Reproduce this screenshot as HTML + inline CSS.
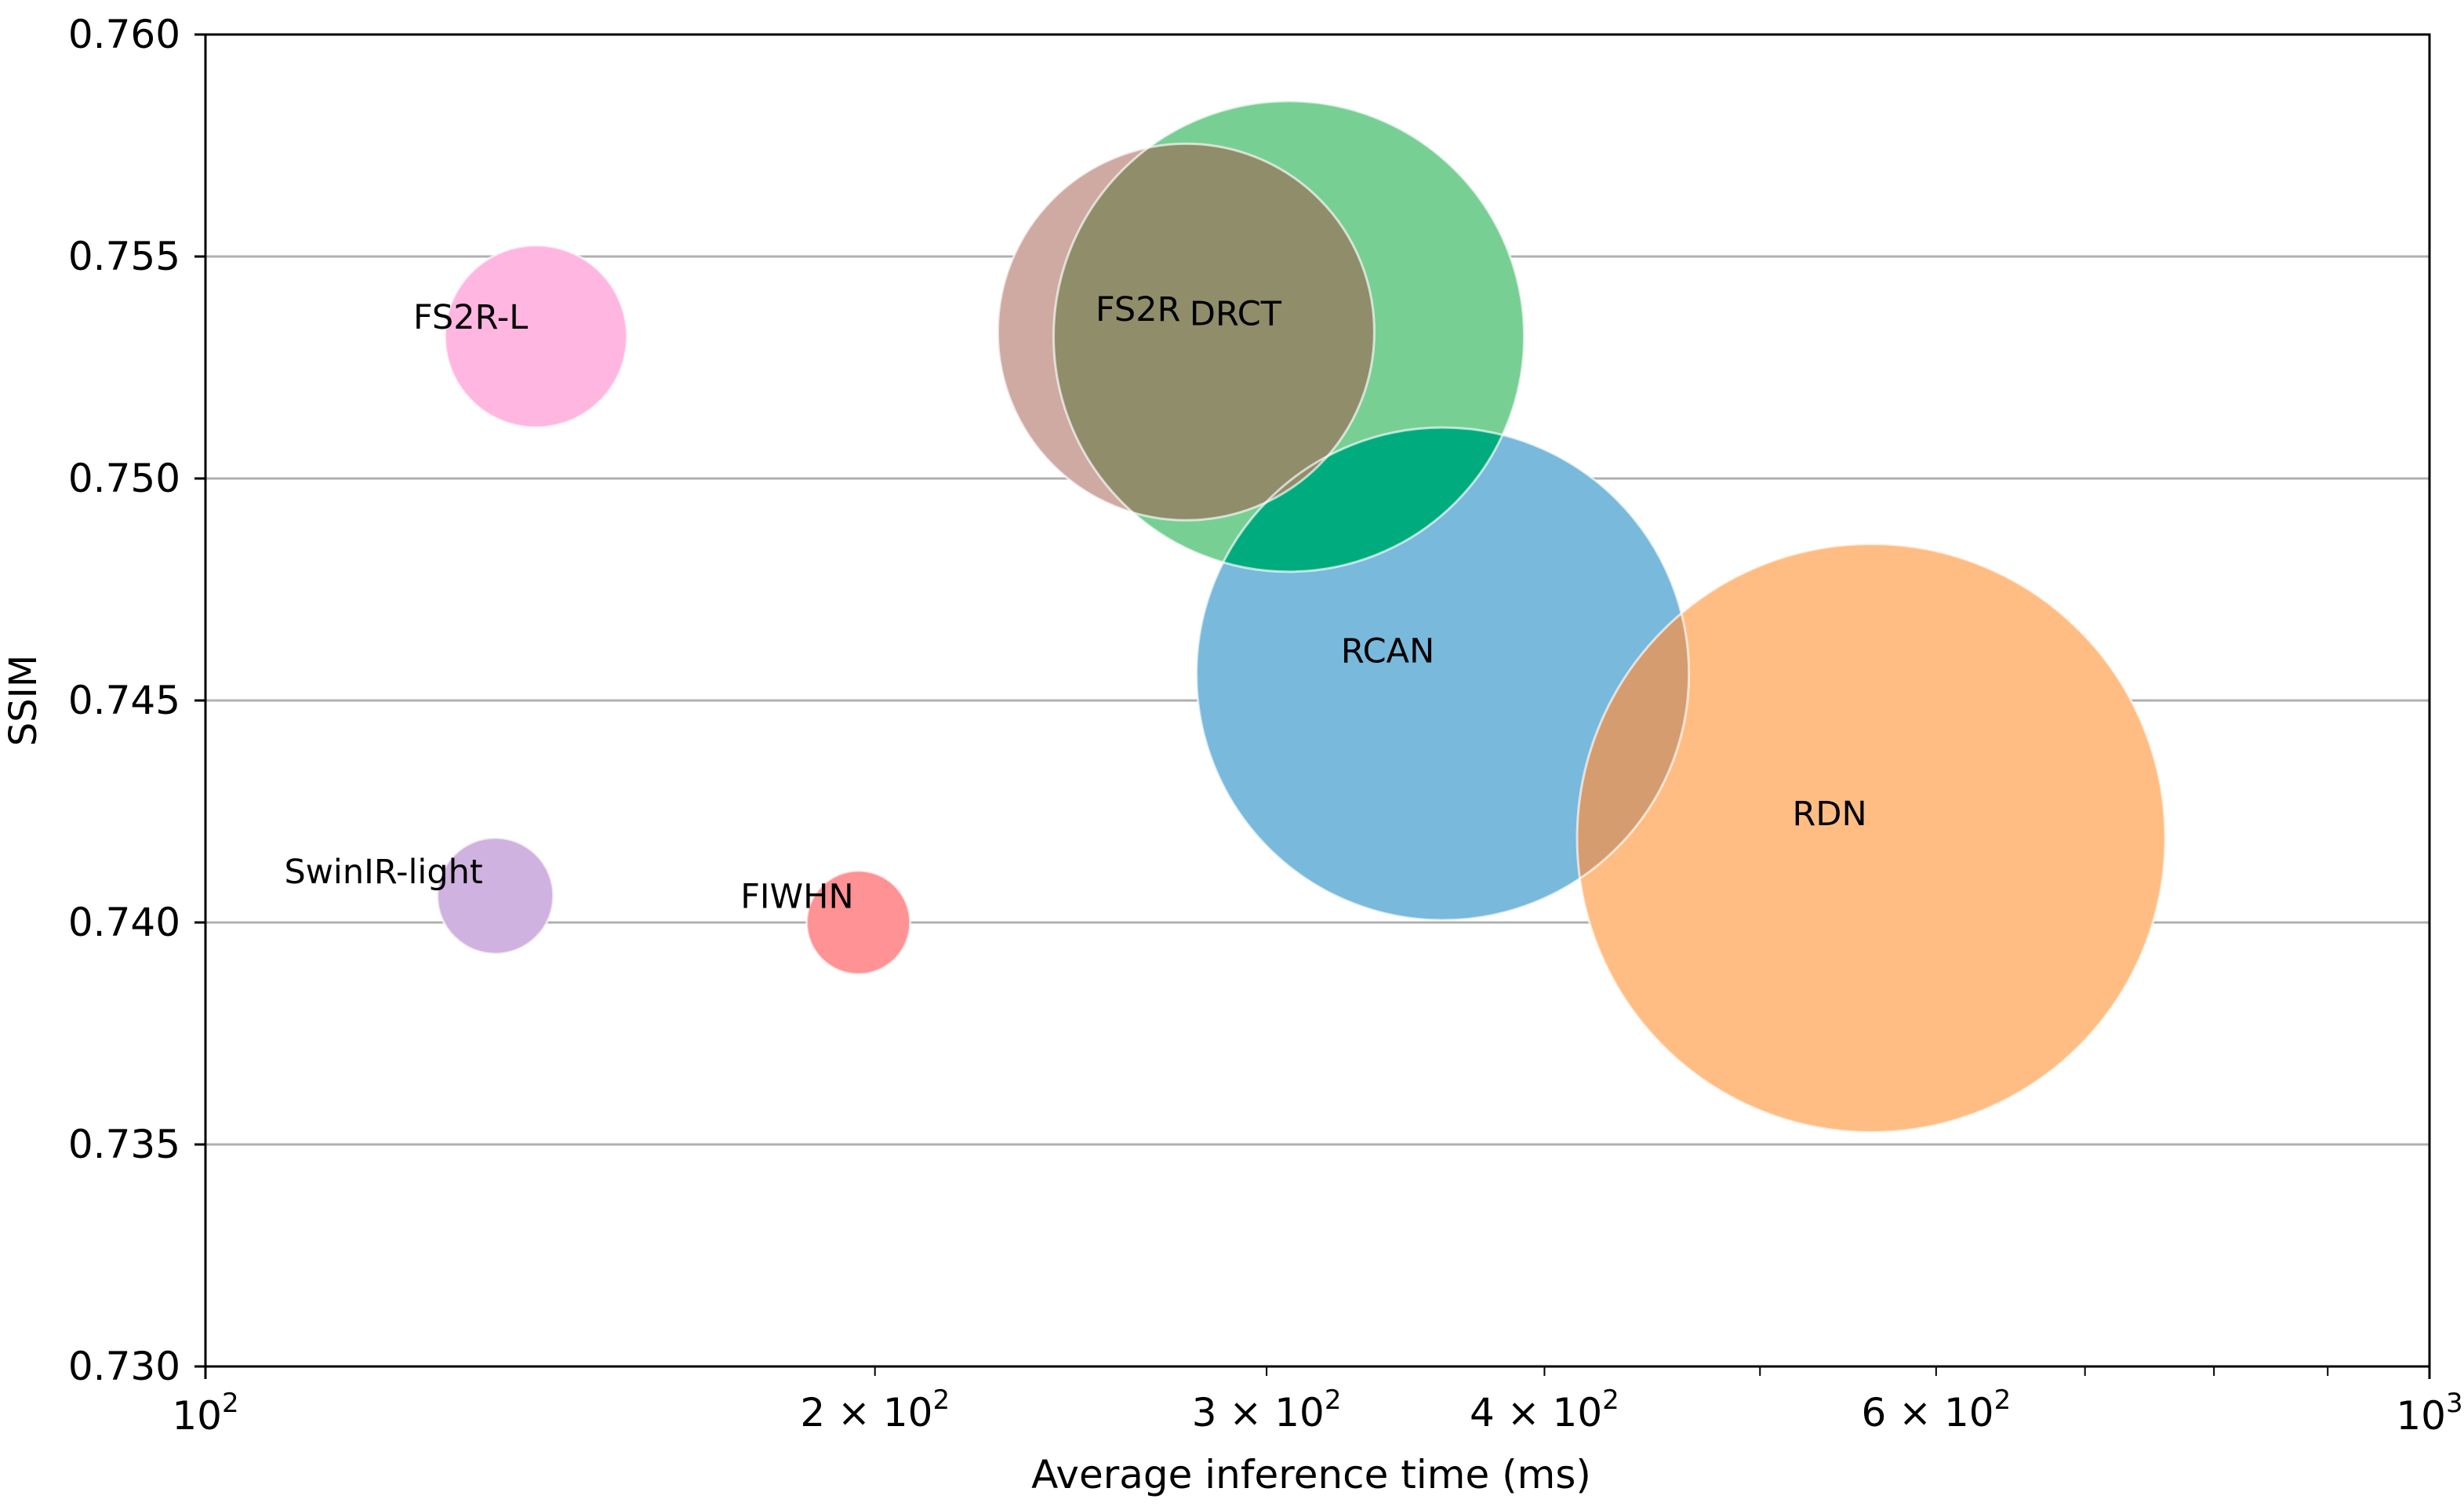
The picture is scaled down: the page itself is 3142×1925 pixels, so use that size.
<!DOCTYPE html>
<html><head><meta charset="utf-8"><style>
html,body{margin:0;padding:0;background:#fff;}
svg{display:block;font-family:"DejaVu Sans","Liberation Sans",sans-serif;}
</style></head><body>
<svg id="chart" width="3142" height="1925" viewBox="0 0 3142 1925" xmlns="http://www.w3.org/2000/svg">
<defs id="defs"></defs>
<g id="grid"></g>
<g id="bubbles"></g>
<g id="overlaps"></g>
<g id="edges"></g>
<g id="labels"></g>
<g id="axes"></g>
</svg>
<script>
const models = ["RCAN","RDN","DRCT","FS2R","FS2R-L","SwinIR-light","FIWHN"];
const timeMs = [360, 561, 307, 276, 140.8, 135, 196.6];
const ssim = [0.7456, 0.7419, 0.7532, 0.7533, 0.7532, 0.7406, 0.7400];
const radiusPx = [314, 375, 300, 240, 116, 74, 66];
const colors = ["#78b9dc","#ffbd83","#78cf94","#cfaaa2","#ffb6e0","#cfb2df","#ff9294"];
const overlapA = [0, 0, 2];
const overlapB = [1, 2, 3];
const overlapColors = ["#d59c6f","#00ac7d","#8f8d6a"];
const labelTime = [324, 517, 277, 251.3, 124, 108.5, 174];
const labelSsim = [0.7461, 0.74244, 0.7537, 0.7538, 0.75362, 0.74113, 0.74057];
const yTicks = [0.730,0.735,0.740,0.745,0.750,0.755,0.760];
const xMajor = [100,1000];
const xMinor = [200,300,400,500,600,700,800,900];
const xMinorLabels = {200:"2",300:"3",400:"4",600:"6"};

const L=262,R=3098,T=44,B=1742;
const X=v=>L+(Math.log10(v)-2)*(R-L);
const Y=v=>B-(v-0.730)/(0.030)*(B-T);
const NS="http://www.w3.org/2000/svg";
function mk(tag,attrs,parent,text){const e=document.createElementNS(NS,tag);for(const k in attrs)e.setAttribute(k,attrs[k]);if(text!==undefined)e.textContent=text;parent.appendChild(e);return e;}
const defs=document.getElementById('defs'),grid=document.getElementById('grid'),bub=document.getElementById('bubbles'),ovl=document.getElementById('overlaps'),edg=document.getElementById('edges'),lab=document.getElementById('labels'),ax=document.getElementById('axes');

yTicks.forEach(t=>{
  const g=mk('line',{x1:L,x2:R,y1:Y(t),y2:Y(t),stroke:'#b0b0b0','stroke-width':3},grid);
  
  
  const tk=mk('line',{x1:L-14,x2:L,y1:Y(t),y2:Y(t),stroke:'#000','stroke-width':3},ax);
  
  
  const tl=mk('text',{x:L-32,y:Y(t),'text-anchor':'end','dominant-baseline':'central','font-size':50,fill:'#000'},ax,t.toFixed(3));
  
  
});

models.forEach((m,i)=>{
  const cp=mk('clipPath',{id:'clip'+i},defs);
  mk('circle',{cx:X(timeMs[i]),cy:Y(ssim[i]),r:radiusPx[i]},cp);
  const c=mk('circle',{cx:X(timeMs[i]),cy:Y(ssim[i]),r:radiusPx[i],fill:colors[i]},bub);
  
  
  const t=mk('text',{x:X(labelTime[i]),y:Y(labelSsim[i]),'dominant-baseline':'central','font-size':43,fill:'#000'},lab,m);
  
  
});
overlapA.forEach((a,k)=>{
  const b=overlapB[k];
  const o=mk('circle',{cx:X(timeMs[b]),cy:Y(ssim[b]),r:radiusPx[b],fill:overlapColors[k],'clip-path':'url(#clip'+a+')'},ovl);
  
  
});
models.forEach((m,i)=>{
  const e=mk('circle',{cx:X(timeMs[i]),cy:Y(ssim[i]),r:radiusPx[i],fill:'none',stroke:'rgba(255,255,255,0.65)','stroke-width':3},edg);
  
  
});

const frame=mk('rect',{x:L,y:T,width:R-L,height:B-T,fill:'none',stroke:'#000','stroke-width':3},ax);



xMajor.concat(xMinor).forEach(v=>{
  const major=xMajor.includes(v);
  const tk=mk('line',{x1:X(v),x2:X(v),y1:B,y2:B+(major?16:12),stroke:'#000','stroke-width':major?3:2},ax);
  
  
});
xMajor.forEach(v=>{
  const t=mk('text',{x:X(v),y:B+80,'text-anchor':'middle','font-size':50,fill:'#000'},ax);
  
  
  t.innerHTML='10<tspan dy="-22" font-size="34">'+Math.round(Math.log10(v))+'</tspan>';
});
xMinor.forEach(v=>{
  if(!xMinorLabels[v])return;
  const t=mk('text',{x:X(v),y:B+76,'text-anchor':'middle','font-size':50,fill:'#000'},ax);
  
  
  t.innerHTML=xMinorLabels[v]+' \u00d7 10<tspan dy="-22" font-size="34">2</tspan>';
});

const xt=mk('text',{x:1672,y:1897,'text-anchor':'middle','font-size':50,fill:'#000'},ax,'Average inference time (ms)');


const yt=mk('text',{x:0,y:0,'text-anchor':'middle','font-size':48,fill:'#000',transform:'translate(46,'+((T+B)/2)+') rotate(-90)'},ax,'SSIM');


</script>
</body></html>
